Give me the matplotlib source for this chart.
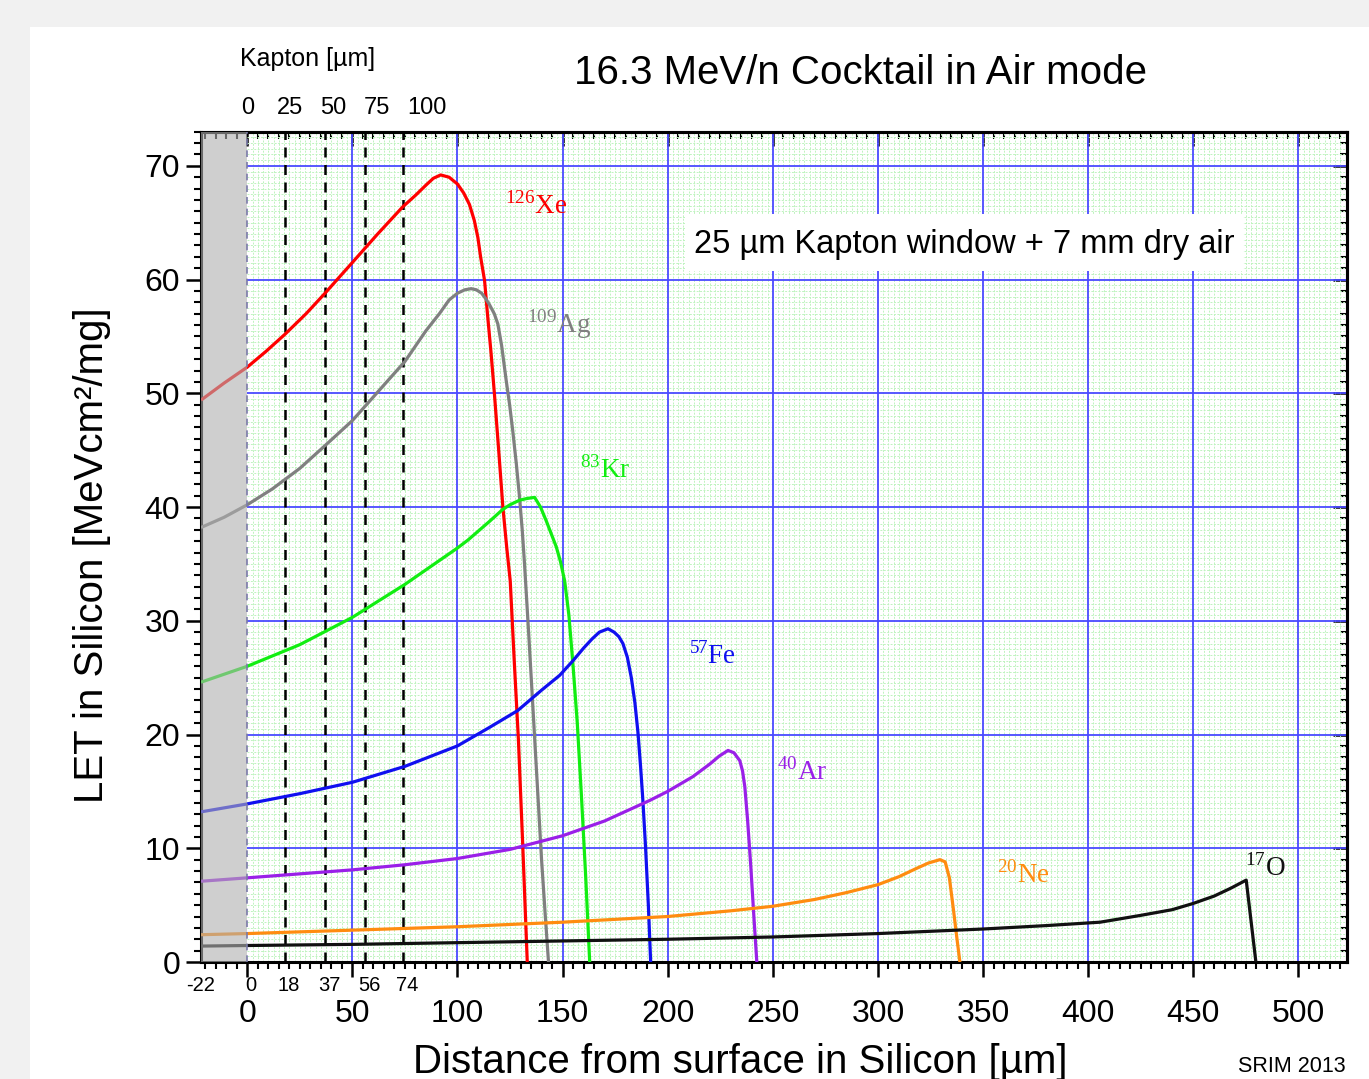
import numpy as np
import matplotlib.pyplot as plt
import matplotlib.transforms as mtransforms
from matplotlib.patches import Rectangle
from matplotlib.ticker import MultipleLocator, NullFormatter

plt.rcParams['font.family'] = ['Liberation Sans', 'DejaVu Sans']
plt.rcParams['mathtext.fontset'] = 'custom'
plt.rcParams['mathtext.rm'] = 'Liberation Serif'

# LET in silicon vs depth (um)
xe_x = [-22, -11, 0, 9, 18, 28, 37, 50, 62, 74, 80, 85, 88.5, 92, 96, 100, 103, 105.7, 108, 109.7,
        111, 112.9, 114.4, 116, 117.6, 119.6, 121.6, 123.4, 125.1, 127, 129, 131, 133.2]
xe_y = [49.4, 50.9, 52.3, 53.7, 55.2, 57.0, 58.8, 61.5, 64.0, 66.4, 67.4, 68.3, 68.9, 69.2, 69.0, 68.4, 67.6, 66.6, 65.2, 63.7,
        62.0, 59.9, 56.7, 53.5, 49.9, 45.0, 40.0, 36.5, 33.5, 26.5, 19.5, 10.5, 0]

ag_x = [-22, -11, 0, 12, 25, 37, 50, 62, 75, 85, 91.4, 96, 100, 103.5, 106.5, 109, 111.5, 113.5, 115.2, 117.5,
        119.2, 121, 123.2, 124.8, 126.3, 128, 129.5, 130.8, 131.9, 134, 136, 138, 140, 141.8, 143.3]
ag_y = [38.2, 39.1, 40.2, 41.6, 43.4, 45.4, 47.6, 50.1, 52.8, 55.5, 57.0, 58.2, 58.8, 59.1, 59.2, 59.1, 58.8, 58.3, 57.8, 57.0,
        56.1, 54.2, 51.1, 49.0, 46.7, 43.8, 40.9, 38.0, 35.0, 28.5, 22.0, 15.5, 9.0, 4.0, 0]

kr_x = [-22, 0, 25, 50, 75, 100, 105, 110, 115, 121.6, 125, 129.5, 133, 136.7, 139.5, 142.2, 144.5, 147, 149, 151,
        153, 155, 157, 159, 161, 162.9]
kr_y = [24.6, 26.0, 27.9, 30.3, 33.2, 36.4, 37.1, 37.9, 38.7, 39.8, 40.2, 40.6, 40.75, 40.85, 40.0, 38.8, 37.7, 36.5, 35.2, 33.5,
        30.5, 26.0, 21.0, 14.5, 7.5, 0]

fe_x = [-22, 0, 25, 50, 75, 100, 115, 128.6, 140, 148.6, 155, 160, 164, 167.5, 171.6, 174.5, 176.8, 178.7, 180.8, 182.7,
        184.4, 185.9, 187.1, 188.2, 189.5, 190.8, 191.9]
fe_y = [13.2, 13.9, 14.8, 15.8, 17.2, 19.0, 20.6, 22.1, 23.9, 25.2, 26.5, 27.6, 28.4, 29.0, 29.3, 29.0, 28.6, 28.0, 26.8, 25.0,
        22.8, 20.1, 17.2, 14.2, 10.0, 5.0, 0]

ar_x = [-22, 0, 25, 50, 75, 100, 125, 150, 170, 191.4, 200, 212, 220, 224.5, 228.7, 231.5, 234.3, 235.6, 236.7, 238,
        239.5, 241, 242.4]
ar_y = [7.1, 7.4, 7.75, 8.1, 8.55, 9.1, 9.9, 11.1, 12.4, 14.2, 15.0, 16.3, 17.4, 18.1, 18.6, 18.4, 17.7, 16.8, 15.4, 12.5,
        8.5, 4.0, 0]

ne_x = [-22, 0, 50, 100, 150, 200, 230, 250, 270, 285, 300, 310, 318, 324, 329.5, 332, 334, 336, 337.5, 339]
ne_y = [2.4, 2.5, 2.8, 3.1, 3.5, 4.0, 4.5, 4.9, 5.5, 6.1, 6.8, 7.5, 8.2, 8.7, 9.0, 8.8, 7.4, 4.5, 2.2, 0]

o_x = [-22, 0, 50, 100, 150, 200, 250, 300, 350, 380, 405.7, 425, 440, 450, 460, 468, 475.2, 479.8]
o_y = [1.4, 1.45, 1.55, 1.7, 1.85, 2.0, 2.2, 2.5, 2.9, 3.2, 3.5, 4.1, 4.6, 5.15, 5.8, 6.5, 7.2, 0]

ion_names = [r'$^{126}$Xe', r'$^{109}$Ag', r'$^{83}$Kr', r'$^{57}$Fe', r'$^{40}$Ar', r'$^{20}$Ne', r'$^{17}$O']
ion_colors = ['#ff0000', '#808080', '#11ee11', '#1010f0', '#9a20e8', '#ff8c10', '#111111']
ion_label_x = [122.8, 133.0, 158.5, 210.0, 252.0, 356.5, 474.5]
ion_label_y = [65.8, 55.3, 42.6, 26.2, 16.0, 7.0, 7.6]
curves = [(xe_x, xe_y), (ag_x, ag_y), (kr_x, kr_y), (fe_x, fe_y), (ar_x, ar_y), (ne_x, ne_y), (o_x, o_y)]

# Kapton thickness -> equivalent Si depth
si_marks = [-22, 0, 18, 37, 56, 74]
kapton_vals = [0, 25, 50, 75, 100]
kapton_label_pos = [0, 20.5, 41, 61.5, 85.5]

xmin, xmax = -22, 523
ymin, ymax = 0, 73

fig = plt.figure(figsize=(13.69, 10.79), dpi=100, facecolor='#f1f1f1')
fig.add_artist(Rectangle((30 / 1369, 0), 1, 1 - 27 / 1079, transform=fig.transFigure,
                         fc='white', ec='none', zorder=0))
ax = fig.add_axes([201 / 1369, 117 / 1079, 1145.7 / 1369, 830.3 / 1079])
ax.set_xlim(xmin, xmax)
ax.set_ylim(ymin, ymax)

# grid: fine green, coarse blue
for v in np.arange(2.5, xmax, 2.5):
    if v % 50:
        ax.axvline(v, color='#bff3bf', lw=0.7, ls=(0, (2, 1.5)), zorder=0.5)
for v in np.arange(0.5, ymax, 0.5):
    if v % 10:
        ax.hlines(v, 0, xmax, color='#bff3bf', lw=0.7, ls=(0, (2, 1.5)), zorder=0.5)
for v in np.arange(50, xmax, 50):
    ax.axvline(v, color='#4a4aff', lw=1.3, zorder=1)
for v in np.arange(10, ymax, 10):
    ax.hlines(v, 0, xmax, color='#4a4aff', lw=1.3, zorder=1)

for v in si_marks[2:]:
    ax.axvline(v, color='black', lw=1.8, ls=(0, (4, 3)), zorder=2)

for (cx, cy), c in zip(curves, ion_colors):
    ax.plot(cx, cy, color=c, lw=2.3, zorder=3, solid_capstyle='butt')

for name, c, lx, ly in zip(ion_names, ion_colors, ion_label_x, ion_label_y):
    ax.text(lx, ly, name, color=c, fontsize=19.5, family='Liberation Serif',
            ha='left', va='baseline', zorder=7)

# air + window region
ax.axvspan(xmin, 0, color='#b0b0b0', alpha=0.6, lw=0, zorder=5)
ax.axvline(0, color='#7a7aa8', lw=1.2, ls=(0, (4, 3)), zorder=6)

ax.add_patch(Rectangle((208.1, 60.75), 265.7, 5.0, fc='white', ec='none', zorder=4))
ax.text(341, 63.1, '25 µm Kapton window + 7 mm dry air', fontsize=23.5,
        ha='center', va='center', zorder=6)

# ticks
ax.xaxis.set_major_locator(MultipleLocator(50))
ax.xaxis.set_minor_locator(MultipleLocator(5))
ax.yaxis.set_major_locator(MultipleLocator(10))
ax.yaxis.set_minor_locator(MultipleLocator(1))
ax.tick_params(which='major', direction='out', length=11, width=1.8, labelsize=23)
ax.tick_params(which='minor', direction='out', length=5, width=1.5)
ax.tick_params(axis='x', which='major', pad=16)
ax.tick_params(axis='y', which='major', pad=4)

top = ax.secondary_xaxis('top')
top.xaxis.set_major_locator(MultipleLocator(50))
top.xaxis.set_minor_locator(MultipleLocator(5))
top.xaxis.set_major_formatter(NullFormatter())
top.tick_params(which='major', direction='in', length=10, width=1.8)
top.tick_params(which='minor', direction='in', length=5, width=1.5)

right = ax.secondary_yaxis('right')
right.yaxis.set_major_locator(MultipleLocator(10))
right.yaxis.set_minor_locator(MultipleLocator(1))
right.yaxis.set_major_formatter(NullFormatter())
right.tick_params(which='major', direction='in', length=10, width=1.8)
right.tick_params(which='minor', direction='in', length=5, width=1.5)

for a in (ax, top, right):
    for s in a.spines.values():
        s.set_linewidth(2.2)

xt = ax.get_xaxis_transform()
shift = mtransforms.ScaledTranslation(4 / 100, 0, fig.dpi_scale_trans)
for v in si_marks:
    tr = xt if v < 0 else xt + shift
    ax.text(v, -0.028, str(v), transform=tr, ha='center', va='center', fontsize=14.5)

for v, p in zip(kapton_vals, kapton_label_pos):
    ax.text(p, 1.029, str(v), transform=xt, ha='center', va='center', fontsize=17)

fig.text(240 / 1369, 1 - 59 / 1079, 'Kapton [µm]', ha='left', va='center', fontsize=18)
fig.text(861 / 1369, 1 - 73 / 1079, '16.3 MeV/n Cocktail in Air mode', ha='center', va='center', fontsize=29)
fig.text(92 / 1369, 1 - 555 / 1079, 'LET in Silicon [MeVcm²/mg]', rotation=90,
         ha='center', va='center', fontsize=29)
fig.text(740 / 1369, 1 - 1062 / 1079, 'Distance from surface in Silicon [µm]',
         ha='center', va='center', fontsize=29)
fig.text(1292 / 1369, 1 - 1066 / 1079, 'SRIM 2013', ha='center', va='center', fontsize=15.5)

fig.savefig('out.png', dpi=100, facecolor=fig.get_facecolor())
